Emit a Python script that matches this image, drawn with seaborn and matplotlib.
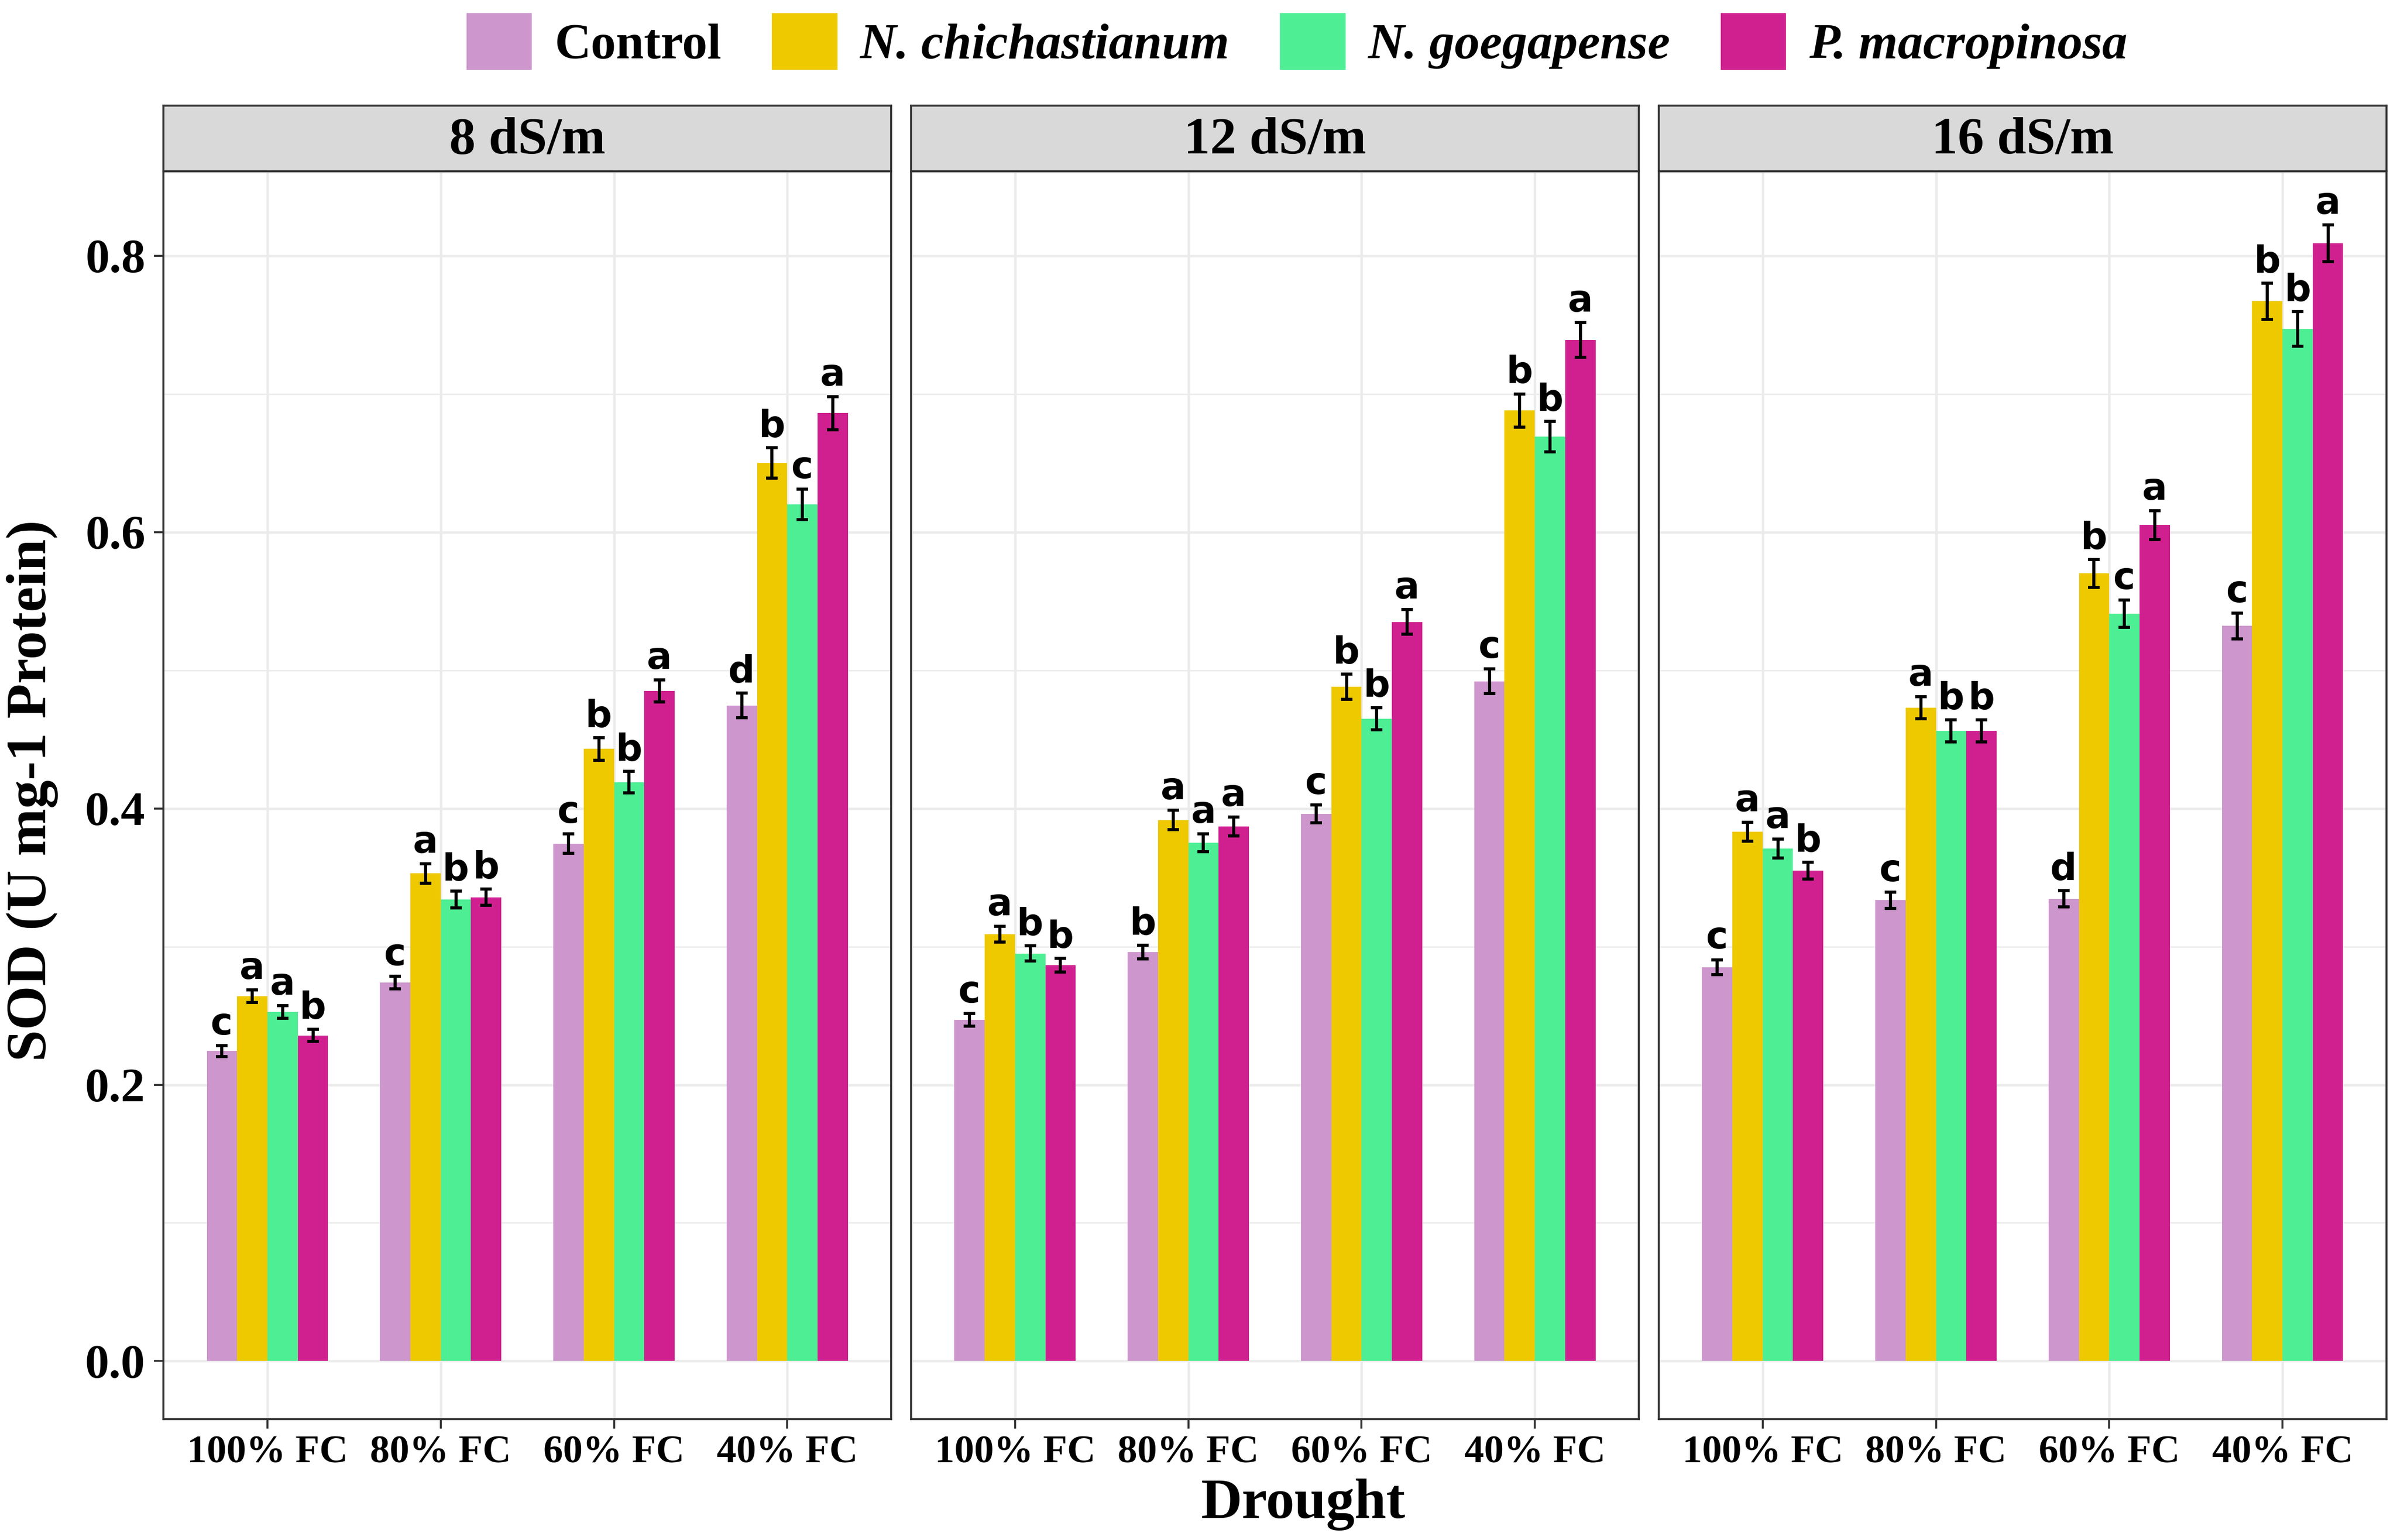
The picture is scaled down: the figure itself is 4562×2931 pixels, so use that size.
import numpy as np
import pandas as pd
import matplotlib
matplotlib.use("Agg")
import matplotlib.pyplot as plt
import seaborn as sns
from matplotlib.patches import Rectangle
from matplotlib.ticker import MultipleLocator, FormatStrFormatter

# ---------------- data ----------------
salinity = ["8 dS/m", "12 dS/m", "16 dS/m"]
drought = ["100% FC", "80% FC", "60% FC", "40% FC"]
treatments = ["Control", "N. chichastianum", "N. goegapense", "P. macropinosa"]
colors = ["#CD96CD", "#EEC900", "#4EEE94", "#D02090"]

# rows: treatments, columns: drought levels
sod_8 = [[0.2245, 0.274, 0.3745, 0.4745],
         [0.264, 0.353, 0.443, 0.650],
         [0.2526, 0.334, 0.419, 0.620],
         [0.2357, 0.3357, 0.485, 0.686]]
se_8 = [[0.004, 0.0046, 0.007, 0.009],
        [0.0046, 0.007, 0.008, 0.011],
        [0.0046, 0.006, 0.0077, 0.011],
        [0.0043, 0.006, 0.008, 0.012]]
let_8 = [["c", "c", "c", "d"],
         ["a", "a", "b", "b"],
         ["a", "b", "b", "c"],
         ["b", "b", "a", "a"]]

sod_12 = [[0.247, 0.296, 0.396, 0.492],
          [0.309, 0.3915, 0.488, 0.688],
          [0.295, 0.375, 0.465, 0.669],
          [0.2865, 0.387, 0.535, 0.739]]
se_12 = [[0.0045, 0.005, 0.0065, 0.009],
         [0.0058, 0.007, 0.009, 0.012],
         [0.0055, 0.0065, 0.008, 0.011],
         [0.005, 0.0068, 0.009, 0.0125]]
let_12 = [["c", "b", "c", "c"],
          ["a", "a", "b", "b"],
          ["b", "a", "b", "b"],
          ["b", "a", "a", "a"]]

sod_16 = [[0.285, 0.3335, 0.3346, 0.532],
          [0.383, 0.473, 0.570, 0.767],
          [0.371, 0.456, 0.541, 0.747],
          [0.355, 0.456, 0.605, 0.809]]
se_16 = [[0.0055, 0.006, 0.006, 0.0093],
         [0.0068, 0.008, 0.010, 0.013],
         [0.0068, 0.008, 0.0098, 0.0126],
         [0.006, 0.008, 0.0104, 0.0134]]
let_16 = [["c", "c", "d", "c"],
          ["a", "a", "b", "b"],
          ["a", "b", "c", "b"],
          ["b", "b", "a", "a"]]

y_ticks = [0.0, 0.2, 0.4, 0.6, 0.8]

rows = []
for s, sod, se, let in zip(salinity, [sod_8, sod_12, sod_16],
                           [se_8, se_12, se_16], [let_8, let_12, let_16]):
    for ti, t in enumerate(treatments):
        for di, d in enumerate(drought):
            rows.append(dict(Salinity=s, Treatment=t, Drought=d,
                             SOD=sod[ti][di], SE=se[ti][di], Letter=let[ti][di]))
df = pd.DataFrame(rows)

# ---------------- style ----------------
sns.set_theme(style="white")
serif = ["Liberation Serif", "DejaVu Serif"]
plt.rcParams["font.family"] = serif
plt.rcParams["text.color"] = "black"
plt.rcParams["axes.labelcolor"] = "black"
plt.rcParams["xtick.color"] = "black"
plt.rcParams["ytick.color"] = "black"

W, H = 4562, 2931
fig = plt.figure(figsize=(W / 300, H / 300), dpi=300)

lefts = [0.0682, 0.3801, 0.6920]
pw = 0.3036
pb, pt = 0.0785, 0.8887
strip_h = 0.0427
border_c = "#333333"

for k, s in enumerate(salinity):
    ax = fig.add_axes([lefts[k], pb, pw, pt - pb])
    sub = df[df.Salinity == s]
    sns.barplot(data=sub, x="Drought", y="SOD", hue="Treatment",
                order=drought, hue_order=treatments, palette=colors,
                width=0.7, saturation=1, errorbar=None, legend=False,
                linewidth=0, ax=ax)
    ax.set_xlim(-0.6, 3.6)
    ax.set_ylim(-0.042, 0.861)
    ax.set_axisbelow(True)
    ax.set_yticks(y_ticks)
    ax.yaxis.set_minor_locator(MultipleLocator(0.1))
    ax.yaxis.set_major_formatter(FormatStrFormatter("%.1f"))
    ax.grid(True, which="major", color="#EBEBEB", linewidth=1.1)
    ax.grid(True, which="minor", axis="y", color="#EBEBEB", linewidth=0.6)
    ax.set_xlabel("")
    ax.set_ylabel("")
    for sp in ax.spines.values():
        sp.set_color(border_c)
        sp.set_linewidth(0.9)
        sp.set_visible(True)
    ax.tick_params(axis="x", which="major", length=4.3, width=0.9,
                   color=border_c, labelcolor="black", pad=3, labelsize=18,
                   bottom=True)
    ax.tick_params(axis="y", which="major", length=4.3, width=0.9,
                   color=border_c, labelcolor="black", pad=4, labelsize=22,
                   left=(k == 0), labelleft=(k == 0))
    ax.tick_params(axis="y", which="minor", length=0)
    for lab in ax.get_xticklabels() + ax.get_yticklabels():
        lab.set_fontweight("bold")
        lab.set_family(serif)

    # error bars and letters from the drawn bars
    for ti, (t, cont) in enumerate(zip(treatments, ax.containers)):
        for di, bar in enumerate(cont):
            r = sub[(sub.Treatment == t) & (sub.Drought == drought[di])].iloc[0]
            xc = bar.get_x() + bar.get_width() / 2
            h = bar.get_height()
            ax.errorbar(xc, h, yerr=r.SE, color="black", elinewidth=1.4,
                        capsize=2.6, capthick=1.4, zorder=5)
            ax.text(xc, h + r.SE + 0.008, r.Letter, ha="center", va="baseline",
                    fontsize=17, fontweight="bold", family="DejaVu Sans",
                    color="black", zorder=6)

    # strip
    sax = fig.add_axes([lefts[k], pt, pw, strip_h])
    sax.set_facecolor("#D9D9D9")
    sax.set_xticks([])
    sax.set_yticks([])
    for sp in sax.spines.values():
        sp.set_color(border_c)
        sp.set_linewidth(0.9)
        sp.set_visible(True)
    sax.text(0.5, 0.47, s, ha="center", va="center", fontsize=24,
             fontweight="bold", family=serif, color="black",
             transform=sax.transAxes)

# axis titles
fig.text(0.0135, (pb + pt) / 2 + 0.003, "SOD (U mg-1 Protein)", rotation=90,
         ha="center", va="center", fontsize=26, fontweight="bold", family=serif,
         color="black")
fig.text(0.5435, 0.023, "Drought", ha="center", va="center", fontsize=26,
         fontweight="bold", family=serif, color="black")

# legend
handles = [Rectangle((0, 0), 1, 1, facecolor=c, edgecolor="none") for c in colors]
leg = fig.legend(handles, treatments, loc="center", bbox_to_anchor=(0.541, 0.973),
                 ncol=4, frameon=False, prop=dict(family=serif, weight="bold", size=23),
                 handlelength=1.3, handleheight=1.35, handletextpad=0.45,
                 columnspacing=1.0, borderpad=0.1)
for i, txt in enumerate(leg.get_texts()):
    txt.set_color("black")
    if i > 0:
        txt.set_style("italic")

fig.savefig("out.png", dpi=300, facecolor="white")
